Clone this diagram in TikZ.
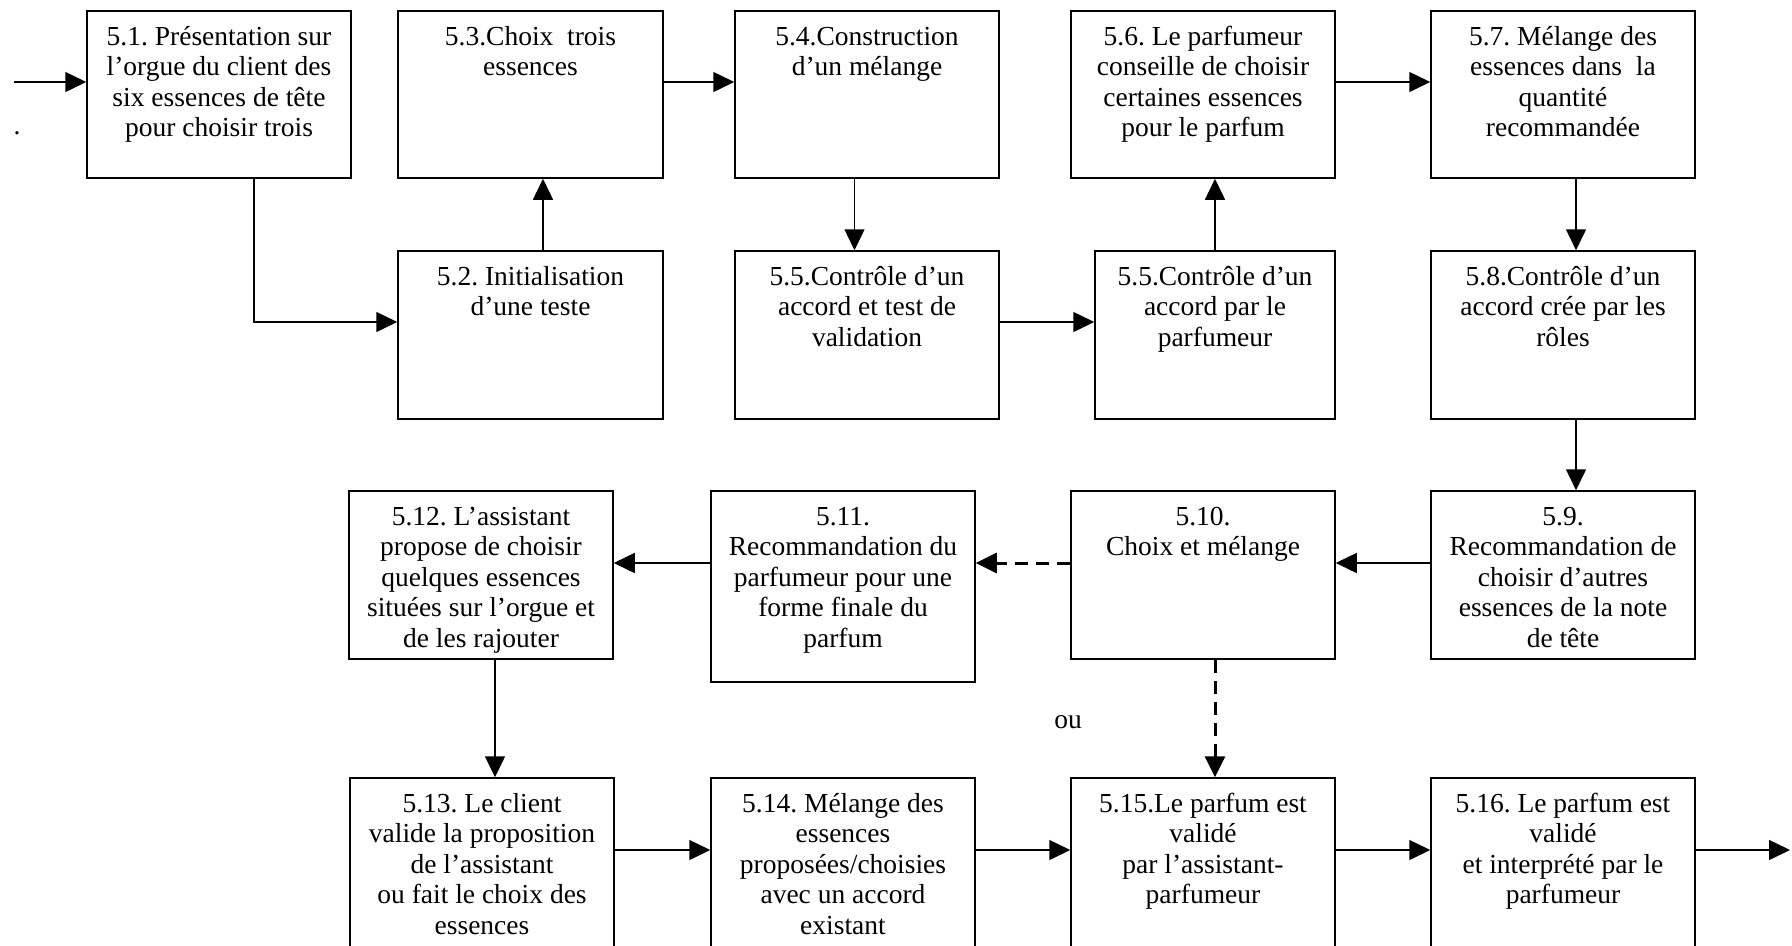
\documentclass[tikz,border=0pt]{standalone}
\usepackage{fontspec}
\setmainfont{Liberation Serif}
\frenchspacing
\usetikzlibrary{arrows.meta,calc}
\tikzset{
  boxst/.style={draw=black, line width=1.5bp, rectangle, inner sep=0pt, fill=white},
  txtst/.style={anchor=north, inner sep=0pt, align=center, font=\fontsize{27.5bp}{30.5bp}\selectfont},
  lbl/.style={inner sep=0pt, font=\fontsize{27.5bp}{30.5bp}\selectfont},
  arr/.style={line width=1.5bp, -{Triangle[length=21bp,width=20bp]}},
  darr/.style={line width=3bp, dash pattern=on 13bp off 8bp, -{Triangle[length=21bp,width=20bp]}},
}
\newcommand\stepbox[6]{%
  \node[boxst, minimum width={(#4-#2)*1bp}, minimum height={(#5-#3)*1bp}] (#1) at ({(#2+#4)/2},{(#3+#5)/2}) {};
  \node[txtst] (#1t) at ([yshift=-15bp]#1.north) {\rule{0pt}{20bp}#6};
}
\begin{document}
\begin{tikzpicture}[x=1bp,y=-1bp]
\fill[white] (0,0) rectangle (1792,945);
\useasboundingbox (0,0) rectangle (1792,945);
\begin{scope}
\clip (0,0) rectangle (1792,945);
% row 1
\stepbox{b51}{87}{11}{351}{178}{5.1. Présentation sur\\l’orgue du client des\\six essences de tête\\pour choisir trois}
\stepbox{b53}{398}{11}{663}{178}{5.3.Choix\ \ trois\\essences}
\stepbox{b54}{735}{11}{999}{178}{5.4.Construction\\d’un mélange}
\stepbox{b56}{1071}{11}{1335}{178}{5.6. Le parfumeur\\conseille de choisir\\certaines essences\\pour le parfum}
\stepbox{b57}{1431}{11}{1695}{178}{5.7. Mélange des\\essences dans\ \ la\\quantité\\recommandée}
% row 2
\stepbox{b52}{398}{251}{663}{419}{5.2. Initialisation\\d’une teste}
\stepbox{b55a}{735}{251}{999}{419}{5.5.Contrôle d’un\\accord et test de\\validation}
\stepbox{b55b}{1095}{251}{1335}{419}{5.5.Contrôle d’un\\accord par le\\parfumeur}
\stepbox{b58}{1431}{251}{1695}{419}{5.8.Contrôle d’un\\accord crée par les\\rôles}
% row 3
\stepbox{b512}{349}{491}{613}{659}{5.12. L’assistant\\propose de choisir\\quelques essences\\situées sur l’orgue et\\de les rajouter}
\stepbox{b511}{711}{491}{975}{682}{5.11.\\Recommandation du\\parfumeur pour une\\forme finale du\\parfum}
\stepbox{b510}{1071}{491}{1335}{659}{5.10.\\Choix et mélange}
\stepbox{b59}{1431}{491}{1695}{659}{5.9.\\Recommandation de\\choisir d’autres\\essences de la note\\de tête}
% row 4
\stepbox{b513}{350}{778}{614}{1000}{5.13. Le client\\valide la proposition\\de l’assistant\\ou fait le choix des\\essences}
\stepbox{b514}{711}{778}{975}{1000}{5.14. Mélange des\\essences\\proposées/choisies\\avec un accord\\existant}
\stepbox{b515}{1071}{778}{1335}{1000}{5.15.Le parfum est\\validé\\par l’assistant-\\parfumeur}
\stepbox{b516}{1431}{778}{1695}{1000}{5.16. Le parfum est\\validé\\et interprété par le\\parfumeur}
\end{scope}
% labels
\node[lbl] (dot) at (17,133) {.};
\node[lbl] (ou) at (1068,722) {ou};
% coordinates
\coordinate (in) at (14,82);
\coordinate (r4) at (0,850);
\coordinate (out) at (1790,850);
% connectors row 1/2
\draw[arr] (in) -- (in -| b51.west);
\draw[arr] ([xshift=35bp]b51.south) |- ([yshift=13bp]b52.west);
\draw[arr] ([xshift=12.5bp]b52.north) -- ([xshift=12.5bp]b53.south);
\draw[arr] ([yshift=12.5bp]b53.east) -- ([yshift=12.5bp]b54.west);
\draw[arr] ([xshift=-12.5bp]b54.south) -- ([xshift=-12.5bp]b55a.north);
\draw[arr] ([yshift=13bp]b55a.east) -- ([yshift=13bp]b55b.west);
\draw[arr] (b55b.north) -- (b55b.north |- b56.south);
\draw[arr] ([yshift=12.5bp]b56.east) -- ([yshift=12.5bp]b57.west);
\draw[arr] ([xshift=13bp]b57.south) -- ([xshift=13bp]b58.north);
\draw[arr] ([xshift=13bp]b58.south) -- ([xshift=13bp]b59.north);
% row 3
\draw[arr] ([yshift=12bp]b59.west) -- ([yshift=12bp]b510.east);
\draw[darr] ([yshift=12bp]b510.west) -- ([yshift=12bp]b510.west -| b511.east);
\draw[arr] ([yshift=12bp]b510.west -| b511.west) -- ([yshift=12bp]b510.west -| b512.east);
\draw[arr] ([xshift=14bp]b512.south) -- ([xshift=14bp]b512.south |- b513.north);
\draw[darr] ([xshift=12bp]b510.south) -- ([xshift=12bp]b515.north);
% row 4
\draw[arr] (b513.east |- r4) -- (b514.west |- r4);
\draw[arr] (b514.east |- r4) -- (b515.west |- r4);
\draw[arr] (b515.east |- r4) -- (b516.west |- r4);
\draw[arr] (b516.east |- r4) -- (out);
\end{tikzpicture}
\end{document}
